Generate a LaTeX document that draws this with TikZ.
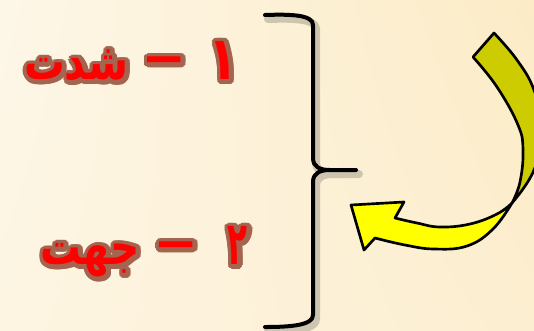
\documentclass[tikz,border=0pt]{standalone}
\usepackage{fontspec}
\usetikzlibrary{calc,shadings}
\TeXXeTstate=1
\newfontfamily\arabicfont[Script=Arabic]{DejaVu Sans}
\definecolor{bgUL}{RGB}{253,247,232}
\definecolor{bgUR}{RGB}{252,235,198}
\definecolor{bgLL}{RGB}{253,245,226}
\definecolor{bgLR}{RGB}{252,238,208}
\definecolor{glowbrown}{RGB}{163,100,80}
\definecolor{olivearrow}{RGB}{204,204,0}
\definecolor{brightyellow}{RGB}{255,255,0}
\newcommand\bigdash{\raisebox{4.2pt}{\fontsize{28}{28}\selectfont —}}
\newcommand\lineone{\scalebox{1}[1.25]{\beginR {\fontsize{36}{36}\selectfont ١}\hspace{19pt}\bigdash\hspace{13pt}شدت\endR}}
\newcommand\linetwo{\scalebox{1}[1.25]{\beginR {\fontsize{36}{36}\selectfont\addfontfeature{FakeStretch=0.68}٢}\hspace{25pt}\bigdash\hspace{13pt}جهت\endR}}
\tikzset{
  txt/.style={anchor=base east,inner sep=0pt,font=\arabicfont\bfseries\fontsize{30.5}{36}\selectfont},
  bracestroke/.style={line width=3pt,line cap=round,line join=round},
  arrowpart/.style={draw=black,line width=2pt,line join=round}
}
\newcommand\glowtext[3]{%
  \foreach \i in {1,...,16}{%
    \node[txt,text=glowbrown] (#1o\i) at ($(#2)+(\i*22.5:4.2)+(1,1.5)$) {#3};
    \node[txt,text=glowbrown] (#1p\i) at ($(#2)+(\i*22.5:2.2)+(1,1.5)$) {#3};
  }
  \node[txt,text=red] (#1) at (#2) {#3};
}
\begin{document}
\begin{tikzpicture}[x=0.75pt,y=-0.75pt]
\useasboundingbox (0,0) rectangle (534,330);
\shade[upper left=bgUL,upper right=bgUR,lower left=bgLL,lower right=bgLR] (0,0) rectangle (534,330);

% texts
\coordinate (p1) at (238,79);
\coordinate (p2) at (248,264);
\glowtext{line1}{p1}{\lineone}
\glowtext{line2}{p2}{\linetwo}

% brace shadow
\begin{scope}[shift={(3,4)}]
\draw[bracestroke,draw=black,opacity=0.18,line width=6pt]
  (265,15) .. controls (292,14) and (313,15) .. (313,25) -- (313,158)
  .. controls (313,167) and (320,170) .. (330,170) -- (356,170)
  (330,170) .. controls (320,170) and (313,173) .. (313,182) -- (313,315)
  .. controls (313,325) and (292,327) .. (265,327);
\end{scope}
% brace
\coordinate (btop) at (265,15);
\coordinate (btip) at (356,170);
\coordinate (bbot) at (265,327);
\draw[bracestroke]
  (btop) .. controls (292,14) and (313,15) .. (313,25) -- (313,158)
  .. controls (313,167) and (320,170) .. (330,170) -- (btip)
  (330,170) .. controls (320,170) and (313,173) .. (313,182) -- (313,315)
  .. controls (313,325) and (292,327) .. (bbot);

% curved arrow: back (olive) part
\coordinate (tailA) at (473,57);
\coordinate (tailB) at (494,33);
\coordinate (pinch) at (512,203);
\filldraw[arrowpart,fill=olivearrow]
  (tailA) -- plot[smooth,tension=0.7] coordinates {(494,33) (517,60) (534,90) (542,128) (534,170) (512,203)}
  -- plot[smooth,tension=0.7] coordinates {(512,203) (520,182) (523,150) (518,125) (497,87) (473,57)}
  -- cycle;
% front (yellow) part with head
\coordinate (tip) at (351,205);
\filldraw[arrowpart,fill=brightyellow]
  (pinch) -- plot[smooth,tension=0.7] coordinates {(512,203) (497,214) (470,224) (440,227) (417,223) (395,218)}
  -- (404,202) -- (tip) -- (364,250) -- (375,238)
  -- plot[smooth,tension=0.7] coordinates {(375,238) (405,245) (434,249) (467,246) (493,229) (512,203)}
  -- cycle;
\end{tikzpicture}
\end{document}
